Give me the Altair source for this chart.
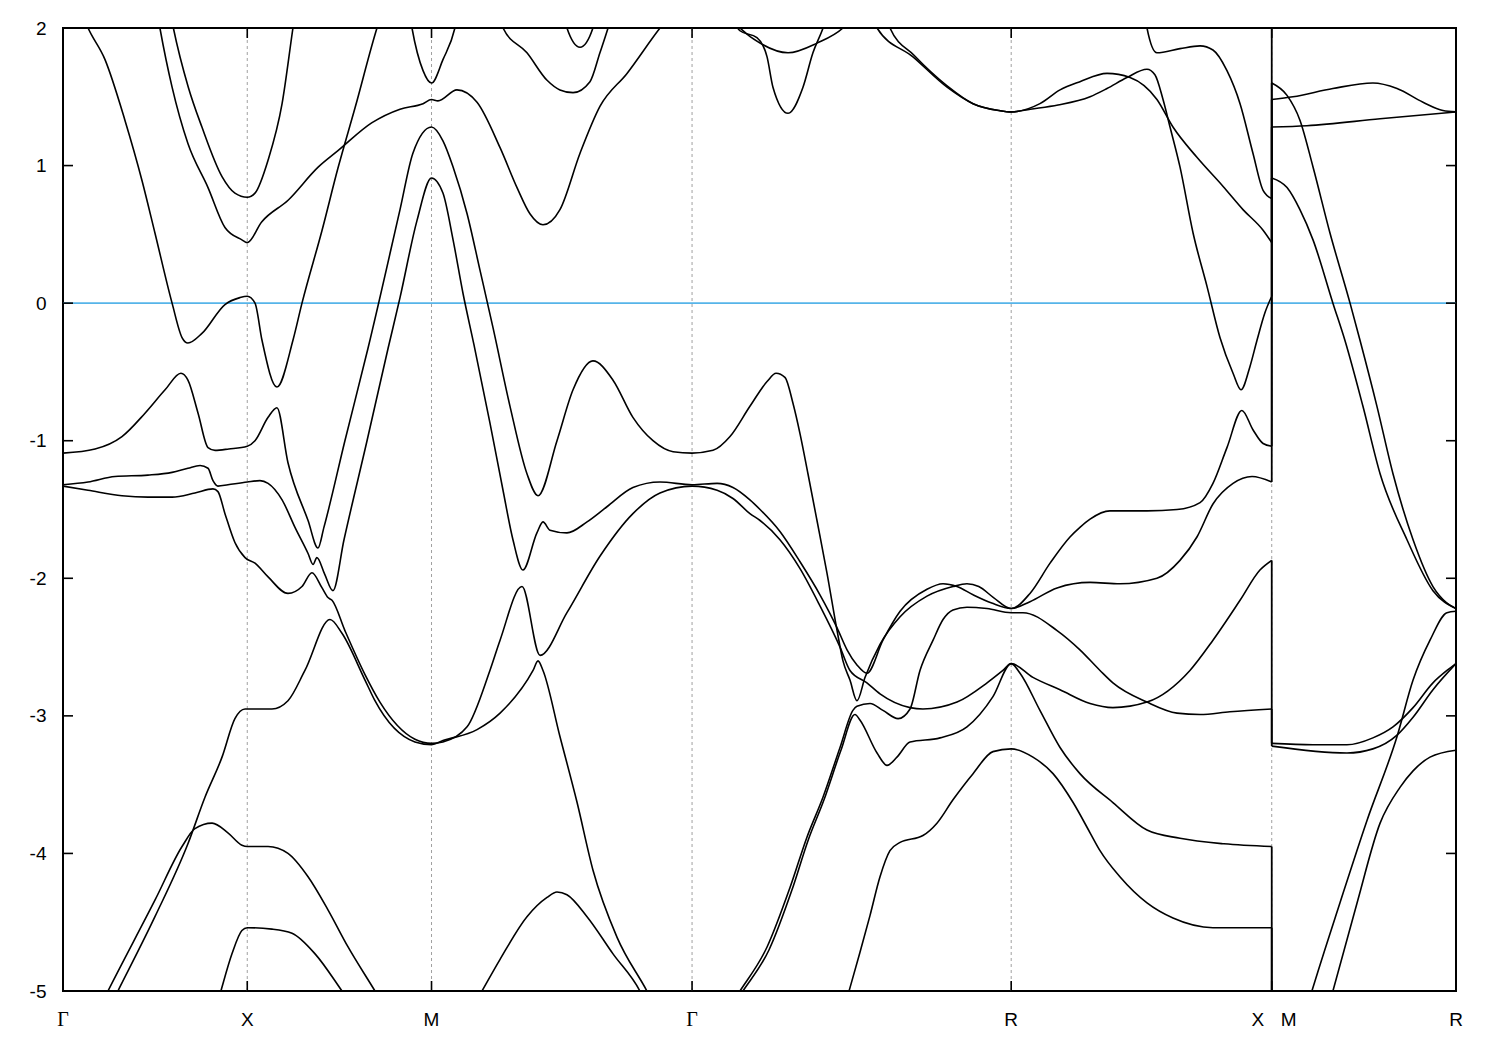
import altair as alt
import pandas as pd

# ---------------- path / axis data ----------------
# path coordinate in units of |Gamma-X|
grid_k = [1.0, 2.0, 3.414, 5.146, 6.560]
gamma_k = [0.0, 3.414]
sans_k = [1.0, 2.0, 5.146, 7.560]
sans_txt = ["X", "M", "R", "R"]
split_k = [6.560]
split_left = ["X"]
split_right = ["M"]
y_ticks = [-5, -4, -3, -2, -1, 0, 1, 2]
x_ticks = [1.0, 2.0, 3.414, 5.146, 6.560]
fermi = [0.0]

# ---------------- bands: [k, E] ----------------
band_01 = [[0.09, 2.15], [0.136, 2.0], [0.228, 1.77], [0.336, 1.33], [0.429, 0.89], [0.499, 0.51], [0.592, 0.0],
           [0.646, -0.25], [0.678, -0.29], [0.754, -0.22], [0.879, -0.01], [0.96, 0.04], [1.0, 0.05], [1.042, 0.0],
           [1.080, -0.27], [1.161, -0.61], [1.248, -0.27], [1.297, 0.0], [1.406, 0.53], [1.492, 0.98], [1.585, 1.42],
           [1.704, 2.0], [1.74, 2.15]]
band_02 = [[0.50, 2.2], [0.526, 2.0], [0.592, 1.57], [0.678, 1.16], [0.787, 0.84], [0.879, 0.55], [0.971, 0.46],
           [1.0, 0.44], [1.078, 0.59], [1.223, 0.75], [1.386, 0.99], [1.494, 1.11], [1.675, 1.31], [1.829, 1.41],
           [1.954, 1.45], [2.0, 1.48], [2.035, 1.47], [2.138, 1.55], [2.247, 1.46], [2.372, 1.13], [2.464, 0.84],
           [2.534, 0.65], [2.605, 0.57], [2.697, 0.68], [2.806, 1.09], [2.914, 1.43], [3.061, 1.67], [3.240, 2.0],
           [3.30, 2.1]]
band_03 = [[0.57, 2.2], [0.599, 2.0], [0.680, 1.57], [0.754, 1.28], [0.863, 0.92], [0.933, 0.80], [1.0, 0.77],
           [1.042, 0.80], [1.113, 1.04], [1.189, 1.45], [1.248, 2.0], [1.27, 2.2]]
band_04 = [[0.0, -1.09], [0.174, -1.06], [0.320, -0.97], [0.445, -0.80], [0.554, -0.63], [0.640, -0.51],
           [0.678, -0.56], [0.733, -0.80], [0.787, -1.05], [0.825, -1.07], [0.90, -1.06], [1.0, -1.04],
           [1.042, -1.0], [1.113, -0.83], [1.161, -0.76], [1.221, -1.16], [1.330, -1.58], [1.384, -1.78],
           [1.416, -1.63], [1.530, -1.0], [1.655, -0.33], [1.829, 0.68], [1.899, 1.09], [2.0, 1.28], [2.062, 1.18],
           [2.117, 0.99], [2.193, 0.65], [2.263, 0.24], [2.334, -0.18], [2.426, -0.75], [2.518, -1.24],
           [2.578, -1.40], [2.681, -1.0], [2.768, -0.63], [2.876, -0.42], [2.985, -0.56], [3.093, -0.83],
           [3.202, -1.0], [3.311, -1.08], [3.414, -1.09], [3.528, -1.07], [3.620, -0.97], [3.728, -0.75],
           [3.821, -0.57], [3.870, -0.51], [3.918, -0.54], [3.962, -0.73], [4.000, -0.95], [4.043, -1.24],
           [4.092, -1.58], [4.146, -1.96], [4.201, -2.38], [4.233, -2.60], [4.271, -2.74], [4.309, -2.89],
           [4.353, -2.72], [4.434, -2.48], [4.543, -2.28], [4.689, -2.13], [4.830, -2.06], [4.906, -2.04],
           [4.970, -2.06], [5.050, -2.14], [5.146, -2.22], [5.248, -2.11], [5.357, -1.89], [5.465, -1.70],
           [5.519, -1.63], [5.574, -1.57], [5.682, -1.51], [5.883, -1.51], [6.046, -1.50], [6.171, -1.45],
           [6.241, -1.31], [6.317, -1.05], [6.398, -0.78], [6.458, -0.92], [6.513, -1.02], [6.560, -1.04]]
band_05 = [[0.0, -1.32], [0.136, -1.30], [0.282, -1.26], [0.461, -1.25], [0.592, -1.23], [0.678, -1.20],
           [0.744, -1.18], [0.787, -1.20], [0.814, -1.29], [0.841, -1.33], [0.895, -1.32], [1.0, -1.30],
           [1.069, -1.29], [1.113, -1.31], [1.189, -1.43], [1.259, -1.63], [1.330, -1.82], [1.357, -1.90],
           [1.378, -1.85], [1.420, -1.97], [1.465, -2.09], [1.525, -1.72], [1.650, -1.0], [1.764, -0.33],
           [1.829, 0.04], [1.921, 0.60], [2.0, 0.91], [2.062, 0.80], [2.117, 0.46], [2.171, 0.07], [2.230, -0.30],
           [2.317, -0.87], [2.388, -1.36], [2.442, -1.72], [2.496, -1.94], [2.572, -1.67], [2.605, -1.59],
           [2.643, -1.65], [2.735, -1.67], [2.844, -1.59], [2.952, -1.48], [3.093, -1.34], [3.240, -1.30],
           [3.414, -1.32], [3.550, -1.31], [3.636, -1.34], [3.728, -1.43], [3.783, -1.50], [3.891, -1.66],
           [4.000, -1.88], [4.108, -2.12], [4.201, -2.36], [4.255, -2.52], [4.309, -2.63], [4.363, -2.69],
           [4.450, -2.45], [4.543, -2.24], [4.689, -2.08], [4.776, -2.04], [4.852, -2.06], [4.939, -2.12],
           [5.040, -2.18], [5.146, -2.22], [5.248, -2.17], [5.395, -2.07], [5.574, -2.03], [5.736, -2.04],
           [5.937, -2.00], [6.062, -1.87], [6.154, -1.70], [6.241, -1.46], [6.350, -1.31], [6.453, -1.26],
           [6.560, -1.30]]
band_06 = [[0.0, -1.33], [0.136, -1.36], [0.320, -1.40], [0.461, -1.41], [0.592, -1.41], [0.716, -1.38],
           [0.814, -1.35], [0.841, -1.37], [0.879, -1.53], [0.933, -1.74], [0.988, -1.85], [1.042, -1.89],
           [1.113, -1.99], [1.221, -2.11], [1.297, -2.06], [1.351, -1.96], [1.406, -2.07], [1.438, -2.14],
           [1.460, -2.16], [1.530, -2.38], [1.639, -2.70], [1.720, -2.90], [1.910, -3.17], [2.0, -3.20],
           [2.062, -3.19], [2.193, -3.08], [2.317, -2.67], [2.372, -2.45], [2.491, -2.06], [2.589, -2.56],
           [2.735, -2.25], [2.914, -1.84], [3.093, -1.53], [3.240, -1.38], [3.414, -1.33], [3.550, -1.36],
           [3.636, -1.42], [3.728, -1.53], [3.783, -1.58], [3.891, -1.72], [4.000, -1.93], [4.108, -2.20],
           [4.217, -2.50], [4.271, -2.67], [4.363, -2.76], [4.434, -2.84], [4.597, -2.94], [4.667, -2.95],
           [4.852, -2.90], [5.015, -2.76], [5.101, -2.67], [5.146, -2.62], [5.264, -2.72], [5.411, -2.81],
           [5.574, -2.91], [5.698, -2.94], [5.883, -2.90], [6.116, -2.67], [6.241, -2.45], [6.388, -2.16],
           [6.496, -1.94], [6.560, -1.87]]
band_07 = [[0.268, -5.08], [0.298, -5.0], [0.499, -4.46], [0.678, -3.93], [0.771, -3.59], [0.863, -3.30],
           [0.933, -3.02], [0.988, -2.95], [1.0, -2.95], [1.134, -2.95], [1.221, -2.89], [1.313, -2.67],
           [1.449, -2.30], [1.514, -2.40], [1.639, -2.74], [1.693, -2.89], [1.910, -3.19], [2.0, -3.21],
           [2.062, -3.18], [2.247, -3.10], [2.372, -2.98], [2.551, -2.67], [2.578, -2.60], [2.605, -2.67],
           [2.697, -3.15], [2.790, -3.63], [2.876, -4.12], [3.007, -4.61], [3.169, -5.0], [3.20, -5.08]]
band_08 = [[0.214, -5.08], [0.244, -5.0], [0.499, -4.34], [0.646, -3.95], [0.716, -3.82], [0.809, -3.78],
           [0.895, -3.85], [0.971, -3.94], [1.0, -3.95], [1.113, -3.95], [1.221, -4.0], [1.330, -4.17],
           [1.438, -4.41], [1.547, -4.68], [1.693, -5.0], [1.72, -5.06]]
band_09 = [[0.84, -5.08], [0.857, -5.0], [0.917, -4.73], [0.971, -4.56], [1.0, -4.54], [1.134, -4.55],
           [1.243, -4.58], [1.368, -4.73], [1.514, -5.0], [1.54, -5.05]]
band_10 = [[2.24, -5.08], [2.274, -5.0], [2.372, -4.77], [2.518, -4.46], [2.627, -4.32], [2.681, -4.28],
           [2.735, -4.30], [2.844, -4.46], [2.985, -4.73], [3.131, -5.0], [3.15, -5.05]]
band_11 = [[1.87, 2.2], [1.894, 2.0], [1.954, 1.69], [2.0, 1.60], [2.062, 1.77], [2.127, 2.0], [2.15, 2.15]]
band_12 = [[2.71, 2.12], [2.735, 2.0], [2.806, 1.86], [2.876, 2.0], [2.90, 2.12]]
band_13 = [[2.36, 2.15], [2.388, 2.0], [2.518, 1.82], [2.627, 1.62], [2.697, 1.55], [2.768, 1.53],
           [2.860, 1.61], [2.914, 1.82], [2.958, 2.0], [2.98, 2.1]]
band_14 = [[3.62, 2.1], [3.674, 1.98], [3.766, 1.93], [3.821, 1.79], [3.853, 1.57], [3.935, 1.38],
           [4.016, 1.57], [4.070, 1.82], [4.125, 2.0], [4.15, 2.1]]
band_15 = [[3.62, 2.08], [3.674, 2.0], [3.783, 1.89], [3.935, 1.82], [4.092, 1.89], [4.233, 2.0], [4.27, 2.05]]
band_16 = [[4.40, 2.1], [4.418, 2.0], [4.613, 1.79], [4.798, 1.57], [4.939, 1.45], [5.08, 1.40], [5.146, 1.39],
           [5.302, 1.45], [5.411, 1.55], [5.519, 1.61], [5.666, 1.67], [5.791, 1.64], [5.937, 1.48],
           [6.024, 1.28], [6.154, 1.06], [6.295, 0.85], [6.404, 0.68], [6.513, 0.53], [6.560, 0.44]]
band_17 = [[4.47, 2.1], [4.488, 2.0], [4.62, 1.80], [4.798, 1.58], [4.939, 1.45], [5.08, 1.40], [5.146, 1.39],
           [5.25, 1.41], [5.40, 1.44], [5.574, 1.50], [5.666, 1.56], [5.774, 1.64], [5.883, 1.70], [5.926, 1.66],
           [5.970, 1.48], [6.008, 1.28], [6.062, 0.99], [6.133, 0.51], [6.209, 0.12], [6.279, -0.25],
           [6.350, -0.51], [6.393, -0.63], [6.442, -0.46], [6.480, -0.27], [6.523, -0.07], [6.560, 0.05]]
band_18 = [[5.87, 2.1], [5.883, 2.0], [5.937, 1.82], [6.062, 1.85], [6.171, 1.87], [6.241, 1.84], [6.317, 1.69],
           [6.388, 1.45], [6.458, 1.09], [6.513, 0.82], [6.560, 0.76]]
band_19 = [[3.64, -5.07], [3.674, -5.0], [3.821, -4.68], [3.945, -4.25], [4.038, -3.88], [4.125, -3.59],
           [4.217, -3.23], [4.287, -2.96], [4.309, -2.93], [4.380, -2.91], [4.45, -2.96], [4.532, -3.02],
           [4.597, -2.95], [4.651, -2.67], [4.722, -2.45], [4.776, -2.30], [4.830, -2.23], [4.906, -2.21],
           [5.015, -2.22], [5.146, -2.25], [5.210, -2.25], [5.395, -2.38], [5.519, -2.52], [5.628, -2.67],
           [5.698, -2.76], [5.883, -2.90], [6.046, -2.98], [6.171, -2.99], [6.333, -2.97], [6.560, -2.95]]
band_20 = [[3.65, -5.08], [3.690, -5.0], [3.832, -4.70], [3.955, -4.27], [4.045, -3.90], [4.130, -3.61],
           [4.222, -3.25], [4.298, -2.99], [4.325, -3.03], [4.418, -3.27], [4.472, -3.36], [4.526, -3.30],
           [4.597, -3.19], [4.760, -3.16], [4.906, -3.08], [5.047, -2.86], [5.146, -2.62], [5.194, -2.69],
           [5.302, -2.96], [5.411, -3.23], [5.519, -3.42], [5.698, -3.63], [5.883, -3.83], [6.062, -3.89],
           [6.30, -3.93], [6.560, -3.95]]
band_21 = [[4.249, -5.08], [4.266, -5.0], [4.325, -4.72], [4.380, -4.45], [4.434, -4.17], [4.488, -3.98],
           [4.543, -3.92], [4.667, -3.87], [4.743, -3.78], [4.830, -3.61], [4.939, -3.42], [5.047, -3.26],
           [5.146, -3.24], [5.264, -3.30], [5.373, -3.42], [5.482, -3.63], [5.574, -3.85], [5.628, -3.98],
           [5.736, -4.17], [5.883, -4.36], [6.024, -4.47], [6.241, -4.54], [6.560, -4.54]]
band_22 = [[6.560, 1.60], [6.643, 1.51], [6.713, 1.33], [6.784, 0.99], [6.876, 0.51], [6.985, 0.0],
           [7.039, -0.27], [7.131, -0.75], [7.218, -1.24], [7.327, -1.72], [7.435, -2.06], [7.511, -2.18],
           [7.560, -2.22]]
band_23 = [[6.560, 0.91], [6.643, 0.84], [6.713, 0.68], [6.784, 0.46], [6.892, 0.0], [6.957, -0.27],
           [7.055, -0.75], [7.148, -1.24], [7.294, -1.72], [7.435, -2.09], [7.560, -2.22]]
band_24 = [[6.560, 1.48], [6.675, 1.50], [6.892, 1.56], [7.109, 1.60], [7.240, 1.56], [7.381, 1.46],
           [7.489, 1.40], [7.560, 1.39]]
band_25 = [[6.560, 1.28], [6.751, 1.29], [7.148, 1.34], [7.560, 1.39]]
band_26 = [[6.560, -3.20], [6.784, -3.21], [6.968, -3.21], [7.109, -3.16], [7.218, -3.08], [7.327, -2.94],
           [7.435, -2.76], [7.511, -2.67], [7.560, -2.62]]
band_27 = [[6.560, -3.22], [6.968, -3.27], [7.109, -3.24], [7.240, -3.14], [7.327, -3.01], [7.435, -2.81],
           [7.560, -2.62]]
band_28 = [[6.76, -5.08], [6.778, -5.0], [6.930, -4.36], [7.077, -3.76], [7.240, -3.15], [7.327, -2.74],
           [7.419, -2.45], [7.511, -2.25], [7.560, -2.24]]
band_29 = [[6.876, -5.08], [6.892, -5.0], [7.023, -4.36], [7.148, -3.78], [7.256, -3.52], [7.327, -3.40],
           [7.419, -3.30], [7.560, -3.25]]

# energies on both sides of the X|M discontinuity
jump_from = [-1.30, -1.04, 0.05, 0.44, 0.76, -1.87, -2.95, -3.95, -4.54]
jump_to = [0.91, 1.28, 1.48, 1.60, 2.2, -3.22, -3.20, -5.2, -5.2]

# ---------------- build tables ----------------
bands = {
    "b01": band_01, "b02": band_02, "b03": band_03, "b04": band_04, "b05": band_05, "b06": band_06,
    "b07": band_07, "b08": band_08, "b09": band_09, "b10": band_10, "b11": band_11, "b12": band_12,
    "b13": band_13, "b14": band_14, "b15": band_15, "b16": band_16, "b17": band_17, "b18": band_18,
    "b19": band_19, "b20": band_20, "b21": band_21, "b22": band_22, "b23": band_23, "b24": band_24,
    "b25": band_25, "b26": band_26, "b27": band_27, "b28": band_28, "b29": band_29,
}
rows = []
for name, pts in bands.items():
    for i, (k, e) in enumerate(pts):
        rows.append({"band": name, "i": i, "k": k, "E": e})
df_bands = pd.DataFrame(rows)
df_jump = pd.DataFrame({"k": split_k * len(jump_from), "E1": jump_from, "E2": jump_to})

W, H = 1393, 963
xs = alt.Scale(domain=[0, 7.56], nice=False, zero=False)
ys = alt.Scale(domain=[-5, 2], nice=False, zero=False)
yaxis = alt.Axis(values=y_ticks, ticks=False, domain=False, grid=False, labelFontSize=19,
                 labelFont="Liberation Sans", labelColor="black", labelPadding=17, title=None,
                 labelFlush=False, labelExpr="replace(datum.label, '\u2212', '-')")

grid = alt.Chart(pd.DataFrame({"k": grid_k})).mark_rule(
    color="#a0a0a0", strokeDash=[3, 3], strokeWidth=1
).encode(x=alt.X("k:Q", scale=xs, axis=None))

zero = alt.Chart(pd.DataFrame({"E": fermi})).mark_rule(
    color="#56b4e9", strokeWidth=1.6
).encode(y=alt.Y("E:Q", scale=ys, axis=yaxis))

lines = alt.Chart(df_bands).mark_line(
    color="black", strokeWidth=1.6, clip=True, interpolate="monotone"
).encode(
    x=alt.X("k:Q", scale=xs, axis=None),
    y=alt.Y("E:Q", scale=ys, axis=yaxis),
    detail="band:N",
    order=alt.Order("i:Q"),
)

jumps = alt.Chart(df_jump).mark_rule(color="black", strokeWidth=1.8, clip=True).encode(
    x=alt.X("k:Q", scale=xs, axis=None),
    y=alt.Y("E1:Q", scale=ys, axis=yaxis),
    y2="E2:Q",
)

df_yt = pd.DataFrame({"E": y_ticks})
df_xt = pd.DataFrame({"k": x_ticks})
yt_left = alt.Chart(df_yt).mark_rule(color="black", strokeWidth=1.6).encode(
    y=alt.Y("E:Q", scale=ys, axis=yaxis), x=alt.value(0), x2=alt.value(10))
yt_right = alt.Chart(df_yt).mark_rule(color="black", strokeWidth=1.6).encode(
    y=alt.Y("E:Q", scale=ys, axis=yaxis), x=alt.value(W - 10), x2=alt.value(W))
xt_bot = alt.Chart(df_xt).mark_rule(color="black", strokeWidth=1.6).encode(
    x=alt.X("k:Q", scale=xs, axis=None), y=alt.value(H - 10), y2=alt.value(H))
xt_top = alt.Chart(df_xt).mark_rule(color="black", strokeWidth=1.6).encode(
    x=alt.X("k:Q", scale=xs, axis=None), y=alt.value(0), y2=alt.value(10))

lab_gamma = alt.Chart(pd.DataFrame({"k": gamma_k, "t": ["Γ"] * len(gamma_k)})).mark_text(
    font="Liberation Serif", fontSize=20, color="black", baseline="middle", align="center"
).encode(x=alt.X("k:Q", scale=xs, axis=None), y=alt.value(H + 29), text="t:N")
lab_sans = alt.Chart(pd.DataFrame({"k": sans_k, "t": sans_txt})).mark_text(
    font="Liberation Sans", fontSize=19, color="black", baseline="middle", align="center"
).encode(x=alt.X("k:Q", scale=xs, axis=None), y=alt.value(H + 29), text="t:N")
lab_left = alt.Chart(pd.DataFrame({"k": split_k, "t": split_left})).mark_text(
    font="Liberation Sans", fontSize=19, color="black", baseline="middle", align="center", dx=-14
).encode(x=alt.X("k:Q", scale=xs, axis=None), y=alt.value(H + 29), text="t:N")
lab_right = alt.Chart(pd.DataFrame({"k": split_k, "t": split_right})).mark_text(
    font="Liberation Sans", fontSize=19, color="black", baseline="middle", align="center", dx=17
).encode(x=alt.X("k:Q", scale=xs, axis=None), y=alt.value(H + 29), text="t:N")

chart = alt.layer(
    grid, zero, lines, jumps, yt_left, yt_right, xt_bot, xt_top,
    lab_gamma, lab_sans, lab_left, lab_right
).properties(
    width=W, height=H,
    autosize=alt.AutoSizeParams(type="none"),
    padding={"left": 55, "top": 20, "right": 30, "bottom": 45},
).configure_view(stroke="black", strokeWidth=2)

chart.save("out.html", embed_options={"renderer": "svg", "actions": False})
